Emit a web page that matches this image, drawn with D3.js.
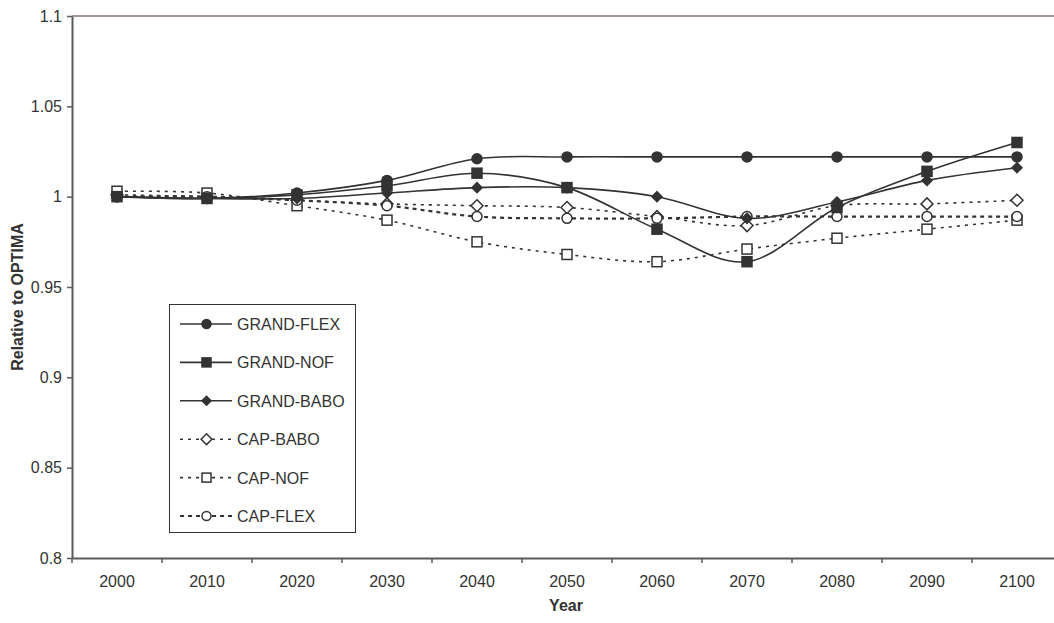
<!DOCTYPE html>
<html>
<head>
<meta charset="utf-8">
<script src="https://cdn.jsdelivr.net/npm/d3@7"></script>
<style>
  html, body { margin: 0; padding: 0; background: #fff; }
  svg { display: block; font-family: "Liberation Sans", Arial, sans-serif; }
</style>
</head>
<body>
<svg id="chart" width="1054" height="623"></svg>
<script>
// Years on the category axis
const years = ["2000","2010","2020","2030","2040","2050","2060","2070","2080","2090","2100"];

// Scenario results relative to OPTIMA
const grandFlex = [1.000, 0.999, 1.002, 1.009, 1.021, 1.022, 1.022, 1.022, 1.022, 1.022, 1.022];
const grandNof  = [1.000, 0.999, 1.001, 1.006, 1.013, 1.005, 0.982, 0.964, 0.994, 1.014, 1.030];
const grandBabo = [1.000, 0.999, 0.999, 1.002, 1.005, 1.005, 1.000, 0.988, 0.997, 1.009, 1.016];
const capBabo   = [1.001, 1.000, 0.998, 0.996, 0.995, 0.994, 0.989, 0.984, 0.995, 0.996, 0.998];
const capNof    = [1.003, 1.002, 0.995, 0.987, 0.975, 0.968, 0.964, 0.971, 0.977, 0.982, 0.987];
const capFlex   = [1.000, 1.000, 0.998, 0.995, 0.989, 0.988, 0.988, 0.989, 0.989, 0.989, 0.989];

const seriesNames = ["GRAND-FLEX","GRAND-NOF","GRAND-BABO","CAP-BABO","CAP-NOF","CAP-FLEX"];

// Y axis ticks and their labels
const yTicks = [0.8, 0.85, 0.9, 0.95, 1.0, 1.05, 1.1];
const yTickLabels = ["0.8","0.85","0.9","0.95","1","1.05","1.1"];

const series = [
  { name: seriesNames[0], values: grandFlex, marker: "circle",  filled: true,  dash: null,  width: 1.6 },
  { name: seriesNames[1], values: grandNof,  marker: "square",  filled: true,  dash: null,  width: 1.6 },
  { name: seriesNames[2], values: grandBabo, marker: "diamond", filled: true,  dash: null,  width: 1.6 },
  { name: seriesNames[3], values: capBabo,   marker: "diamond", filled: false, dash: "3,5", width: 1.6 },
  { name: seriesNames[4], values: capNof,    marker: "square",  filled: false, dash: "3,5", width: 1.6 },
  { name: seriesNames[5], values: capFlex,   marker: "circle",  filled: false, dash: "4,4", width: 2.2 }
];

const ink = "#333333";
const axisCol = "#5a5a5a";
const textCol = "#333333";

const svg = d3.select("#chart");
const plotLeft = 72, plotRight = 1062, plotTop = 16, plotBottom = 558;

const x = d3.scaleBand().domain(years).range([plotLeft, plotRight]).padding(0);
const cx = d => x(d) + x.bandwidth() / 2;
const y = d3.scaleLinear().domain([0.8, 1.1]).range([plotBottom, plotTop]);

// Plot frame: top border
svg.append("line")
  .attr("x1", plotLeft).attr("x2", plotRight)
  .attr("y1", y(1.1)).attr("y2", y(1.1))
  .attr("stroke", "#a39494").attr("stroke-width", 2);

// Y axis
const yAxis = d3.axisLeft(y)
  .tickValues(yTicks)
  .tickFormat((d, i) => yTickLabels[i])
  .tickSizeInner(5).tickSizeOuter(0).tickPadding(5);
const gy = svg.append("g").attr("transform", `translate(${plotLeft},0)`).call(yAxis);
gy.select(".domain").attr("stroke", axisCol).attr("stroke-width", 2);
gy.selectAll(".tick line").attr("stroke", axisCol).attr("stroke-width", 1.5);
gy.selectAll(".tick text").attr("fill", textCol).style("font-size", "16px").style("font-family", "Liberation Sans, Arial, sans-serif");

// X axis: labels centred in each band, tick marks on band boundaries
const xAxis = d3.axisBottom(x).tickSize(0).tickPadding(18);
const gx = svg.append("g").attr("transform", `translate(0,${plotBottom})`).call(xAxis);
gx.select(".domain").attr("stroke", axisCol).attr("stroke-width", 2);
gx.selectAll(".tick text").attr("fill", textCol).style("font-size", "16px").style("font-family", "Liberation Sans, Arial, sans-serif");
gx.selectAll(".boundary")
  .data(years.concat(["end"]))
  .enter().append("line")
  .attr("class", "boundary")
  .attr("x1", d => d === "end" ? plotRight : x(d))
  .attr("x2", d => d === "end" ? plotRight : x(d))
  .attr("y1", 0).attr("y2", 5)
  .attr("stroke", axisCol).attr("stroke-width", 1.5);

// Axis titles
svg.append("text")
  .attr("x", 566).attr("y", 611)
  .attr("text-anchor", "middle")
  .attr("fill", textCol)
  .style("font-size", "16px").style("font-weight", "bold")
  .text("Year");

svg.append("text")
  .attr("transform", "translate(23,297) rotate(-90)")
  .attr("text-anchor", "middle")
  .attr("fill", textCol)
  .style("font-size", "16px").style("font-weight", "bold")
  .text("Relative to OPTIMA");

// Marker drawing
function drawMarker(g, s, px, py, scale) {
  const k = scale || 1;
  const fill = s.filled ? ink : "#fff";
  if (s.marker === "circle") {
    g.append("circle").attr("cx", px).attr("cy", py).attr("r", 5 * k)
      .attr("fill", fill).attr("stroke", ink).attr("stroke-width", 1.5);
  } else if (s.marker === "square") {
    const h = 5 * k;
    g.append("rect").attr("x", px - h).attr("y", py - h).attr("width", 2 * h).attr("height", 2 * h)
      .attr("fill", fill).attr("stroke", ink).attr("stroke-width", 1.5);
  } else {
    const h = (s.filled ? 5 : 6) * k;
    g.append("path")
      .attr("d", `M${px},${py - h}L${px + h},${py}L${px},${py + h}L${px - h},${py}Z`)
      .attr("fill", fill).attr("stroke", ink).attr("stroke-width", 1.5);
  }
}

const line = d3.line()
  .x((d, i) => cx(years[i]))
  .y(d => y(d))
  .curve(d3.curveCardinal.tension(0));

// Draw dashed scenario lines first, solid ones on top
const order = [3, 4, 5, 0, 1, 2];
order.forEach(idx => {
  const s = series[idx];
  const g = svg.append("g");
  g.append("path")
    .attr("d", line(s.values))
    .attr("fill", "none")
    .attr("stroke", ink)
    .attr("stroke-width", s.width)
    .attr("stroke-dasharray", s.dash);
  s.values.forEach((v, i) => drawMarker(g, s, cx(years[i]), y(v)));
});

// Legend
const legend = svg.append("g");
legend.append("rect")
  .attr("x", 169.5).attr("y", 304.5).attr("width", 186).attr("height", 228)
  .attr("fill", "#fff").attr("stroke", ink).attr("stroke-width", 1);

series.forEach((s, i) => {
  const ly = 324 + i * 38.4;
  legend.append("line")
    .attr("x1", 180).attr("x2", 232).attr("y1", ly).attr("y2", ly)
    .attr("stroke", ink).attr("stroke-width", s.width)
    .attr("stroke-dasharray", s.dash);
  drawMarker(legend, s, 206.5, ly, 0.9);
  legend.append("text")
    .attr("x", 237).attr("y", ly + 6)
    .attr("fill", textCol)
    .style("font-size", "16px")
    .text(s.name);
});
</script>
</body>
</html>
